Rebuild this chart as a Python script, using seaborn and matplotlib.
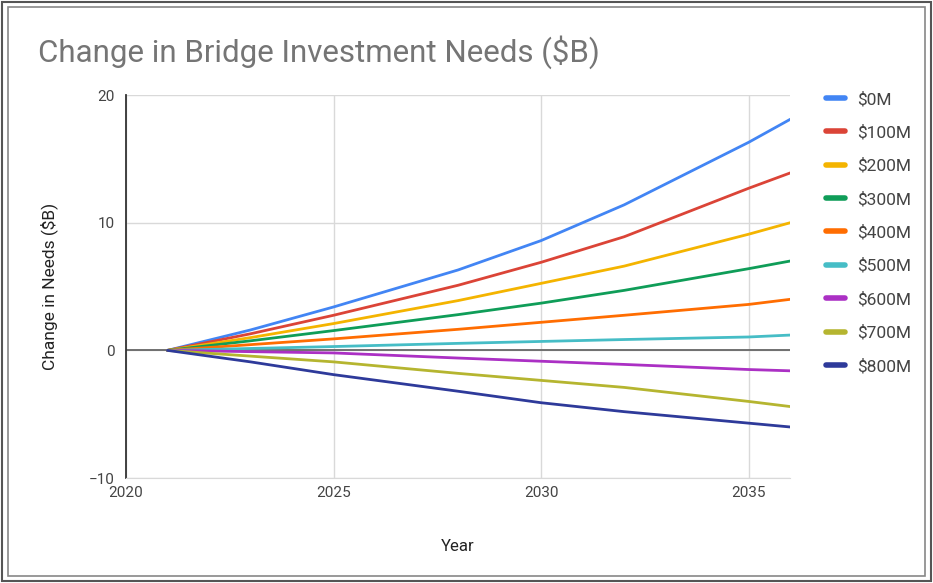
import numpy as np
import pandas as pd
import matplotlib
matplotlib.use("Agg")
import matplotlib.pyplot as plt
from matplotlib.patches import Rectangle
import seaborn as sns

# values ($B change vs. baseline)
years = [2021, 2023, 2025, 2028, 2030, 2032, 2035, 2036]
scenarios = ["$0M", "$100M", "$200M", "$300M", "$400M",
             "$500M", "$600M", "$700M", "$800M"]
s0 = [0, 1.6, 3.4, 6.3, 8.6, 11.4, 16.3, 18.1]
s100 = [0, 1.3, 2.75, 5.1, 6.9, 8.9, 12.7, 13.9]
s200 = [0, 1.0, 2.1, 3.9, 5.25, 6.6, 9.1, 10.0]
s300 = [0, 0.75, 1.55, 2.8, 3.7, 4.7, 6.4, 7.0]
s400 = [0, 0.45, 0.9, 1.65, 2.2, 2.75, 3.6, 4.0]
s500 = [0, 0.15, 0.3, 0.55, 0.7, 0.85, 1.05, 1.2]
s600 = [0, -0.1, -0.2, -0.6, -0.85, -1.1, -1.5, -1.6]
s700 = [0, -0.45, -0.9, -1.8, -2.35, -2.9, -4.0, -4.4]
s800 = [0, -0.9, -1.9, -3.2, -4.1, -4.8, -5.7, -6.0]
series = [s0, s100, s200, s300, s400, s500, s600, s700, s800]

colors = ["#4285f4", "#db4437", "#f4b400", "#0f9d58", "#ff6d01",
          "#46bdc6", "#ab30c4", "#b5b530", "#2e3a9a"]

df = pd.concat(
    [pd.DataFrame({"Year": years, "Change": vals, "Scenario": name})
     for name, vals in zip(scenarios, series)],
    ignore_index=True,
)

sns.set_style("white")
plt.rcParams["font.family"] = ["Roboto", "DejaVu Sans"]

fig = plt.figure(figsize=(9.33, 5.83), dpi=100)
ax = fig.add_axes([0.135, 0.18, 0.712, 0.657])

# grid
ax.set_axisbelow(True)
ax.grid(True, color="#d9d9d9", linewidth=1)
ax.axhline(0, color="#666666", linewidth=1.3, zorder=1)

sns.lineplot(data=df, x="Year", y="Change", hue="Scenario",
             hue_order=scenarios, palette=colors, linewidth=2,
             ax=ax, legend=True, zorder=3)

ax.set_xlim(2020, 2036)
ax.set_ylim(-10, 20)
ax.set_xticks([2020, 2025, 2030, 2035])
ax.set_yticks([-10, 0, 10, 20])
ax.tick_params(axis="both", length=0, labelsize=11, colors="#444444")
ax.tick_params(axis="x", pad=6)
ax.tick_params(axis="y", pad=8)

for side in ["top", "right"]:
    ax.spines[side].set_visible(False)
ax.spines["bottom"].set_color("#d9d9d9")
ax.spines["left"].set_color("#333333")
ax.spines["left"].set_linewidth(1.3)

ax.set_xlabel("Year", fontsize=12, color="#222222", labelpad=28)
ax.set_ylabel("Change in Needs ($B)", fontsize=12.5, color="#222222", labelpad=22)

fig.text(0.041, 0.91, "Change in Bridge Investment Needs ($B)",
         fontsize=22.5, color="#757575", va="center", ha="left")

handles, labels = ax.get_legend_handles_labels()
for h in handles:
    h.set_linewidth(4)
ax.legend(handles, labels, loc="upper left", bbox_to_anchor=(1.03, 1.05),
          frameon=False, fontsize=12.5, labelspacing=1.03, handlelength=1.1,
          handletextpad=0.7, labelcolor="#444444")

# double frame around the image
fig.patches.append(Rectangle((0.002, 0.003), 0.996, 0.994, transform=fig.transFigure,
                             fill=False, edgecolor="#555555", linewidth=1.5))
fig.patches.append(Rectangle((0.009, 0.012), 0.982, 0.976, transform=fig.transFigure,
                             fill=False, edgecolor="#888888", linewidth=1.2))

fig.savefig("out.png", dpi=100)
